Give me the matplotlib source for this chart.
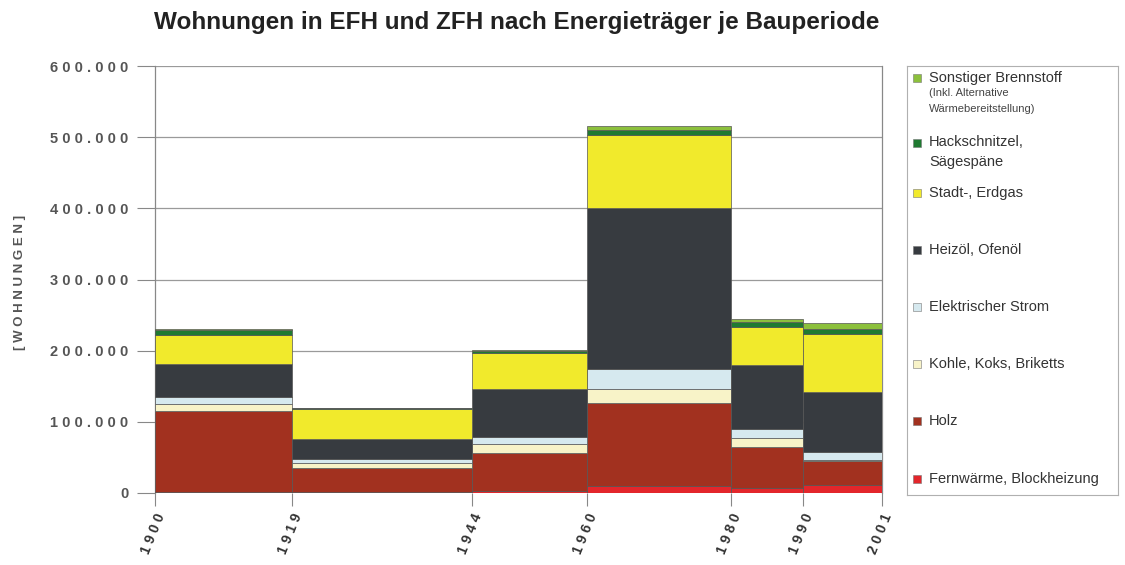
import numpy as np
import matplotlib.pyplot as plt
from matplotlib.patches import Rectangle

plt.rcParams['font.family'] = ['Liberation Sans', 'DejaVu Sans']

# Bauperioden (Grenzen)
years = [1900, 1919, 1944, 1960, 1980, 1990, 2001]

# Wohnungen je Energieträger (in Tausend), von unten nach oben
fernwaerme = [2, 1, 3, 10, 7, 11]
holz = [113, 34, 53, 116, 58, 34]
kohle = [10, 7, 13, 20, 12, 1]
strom = [10, 6, 10, 28, 13, 12]
heizoel = [46, 28, 67, 226, 90, 84]
gas = [41, 42, 51, 103, 53, 81]
hackschnitzel = [7, 1, 3, 7, 7, 7]
sonstiger = [1, 0.5, 1, 5, 4, 9]

series = [fernwaerme, holz, kohle, strom, heizoel, gas, hackschnitzel, sonstiger]
colors = ['#e3262b', '#a2311f', '#f8f3c8', '#d6e9ef', '#373b40', '#f1ea2c',
          '#1f7a31', '#8cc03c']
labels = ['Fernwärme, Blockheizung', 'Holz', 'Kohle, Koks, Briketts',
          'Elektrischer Strom', 'Heizöl, Ofenöl', 'Stadt-, Erdgas',
          'Hackschnitzel,\nSägespäne', 'Sonstiger Brennstoff']

yticks = [0, 100000, 200000, 300000, 400000, 500000, 600000]


def spaced(s):
    return ' '.join(s)


fig = plt.figure(figsize=(11.25, 5.65), dpi=100)
ax = fig.add_axes([155 / 1125, 1 - 493 / 565, 727 / 1125, 427 / 565])

left = np.array(years[:-1])
width = np.diff(years)
bottom = np.zeros(len(left))
for vals, c in zip(series, colors):
    v = np.array(vals) * 1000
    ax.bar(left, v, width=width, bottom=bottom, align='edge', color=c,
           edgecolor='#555555', linewidth=0.5, zorder=3)
    bottom += v

ax.set_xlim(years[0], years[-1])
ax.set_ylim(0, 600000)
ax.set_yticks(yticks)
ax.set_yticklabels([spaced(f'{t:,}'.replace(',', '.')) for t in yticks],
                   fontsize=10.5, fontweight='bold', color='#555555')
ax.set_xticks(years)
ax.set_xticklabels([spaced(str(y)) for y in years], rotation=68, ha='right',
                   va='top', rotation_mode='anchor', fontsize=10,
                   fontweight='bold', color='#333333')
ax.tick_params(axis='y', length=13, width=0.8, color='#888888', pad=6)
ax.tick_params(axis='x', length=9, width=0.8, color='#888888', pad=4)
ax.grid(axis='y', color='#9a9a9a', linewidth=0.9, zorder=0)
for s in ['top', 'bottom']:
    ax.spines[s].set_visible(False)
for s in ['left', 'right']:
    ax.spines[s].set_color('#888888')
    ax.spines[s].set_linewidth(0.9)

fig.text(20 / 1125, 1 - 282 / 565, spaced('[WOHNUNGEN]'), rotation=90,
         ha='center', va='center', fontsize=9.5, fontweight='bold',
         color='#555555')

fig.text(517 / 1125, 1 - 22 / 565,
         'Wohnungen in EFH und ZFH nach Energieträger je Bauperiode',
         ha='center', va='center', fontsize=17.5, fontweight='bold',
         color='#222222')

# Legende als eigener Kasten
lg = fig.add_axes([907 / 1125, 1 - 495 / 565, 211 / 1125, 429 / 565])
lg.set_xlim(907, 1118)
lg.set_ylim(495, 66)
lg.set_xticks([])
lg.set_yticks([])
for s in lg.spines.values():
    s.set_color('#b0b0b0')
    s.set_linewidth(0.8)

leg_y = [479, 421, 364, 307, 250, 193, 143, 78]
for ypos, c, lab in zip(leg_y, colors, labels):
    lg.add_patch(Rectangle((913, ypos - 4), 8, 8, facecolor=c,
                           edgecolor='#777777', linewidth=0.4))
    if '\n' in lab:
        lg.text(929, ypos - 8, lab, ha='left', va='top', fontsize=10.5,
                color='#333333', linespacing=1.5)
    else:
        lg.text(929, ypos, lab, ha='left', va='center', fontsize=10.5,
                color='#333333')
lg.text(929, 88, '(Inkl. Alternative\nWärmebereitstellung)', ha='left',
        va='top', fontsize=8, color='#444444', linespacing=1.8)

fig.savefig('out.png', dpi=100)
